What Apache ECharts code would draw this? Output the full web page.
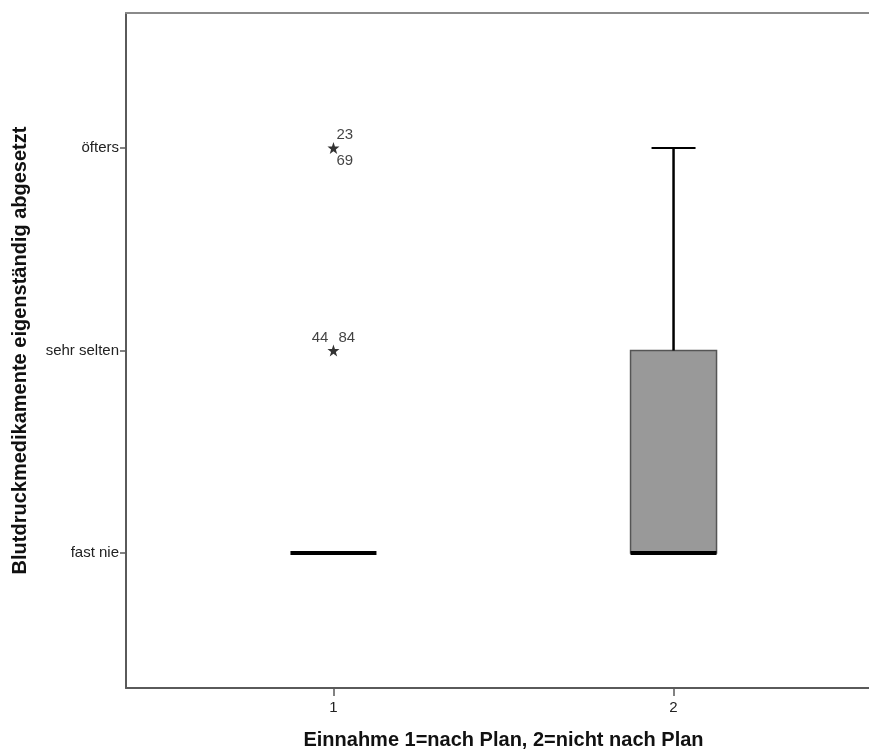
<!DOCTYPE html>
<html>
<head>
<meta charset="utf-8">
<script src="https://cdn.jsdelivr.net/npm/echarts@6/dist/echarts.min.js"></script>
<style>
html,body{margin:0;padding:0;background:#fff;}
#chart{width:869px;height:751px;}
</style>
</head>
<body>
<div id="chart"></div>
<script>
// ---- data ----
const groups = [1, 2];
const groupLabels = ['1', '2'];
const yLevelValues = [1, 2, 3];
const yLevelLabels = ['fast nie', 'sehr selten', 'öfters'];
// box statistics per group: min, Q1, median, Q3, max
const boxMin    = [1, 1];
const boxQ1     = [1, 1];
const boxMedian = [1, 1];
const boxQ3     = [1, 2];
const boxMax    = [1, 3];
// extreme values (stars) with case numbers
const outlierGroup = [1, 1];
const outlierValue = [3, 2];
const outlierCases = [['23', '69'], ['44', '84']];
const xTitle = 'Einnahme 1=nach Plan, 2=nicht nach Plan';
const yTitle = 'Blutdruckmedikamente eigenständig abgesetzt';

// ---- styles ----
const FONT = '"Liberation Sans", Arial, sans-serif';
const BOX_W = 86;
const CAP_W = 44;
const STAR = 'path://M0,-10L2.35,-3.24L9.51,-3.09L3.8,1.24L5.88,8.09L0,4L-5.88,8.09L-3.8,1.24L-9.51,-3.09L-2.35,-3.24Z';
// label placements: [align, dx, dy] relative to the star centre
const labelPlacements = [
  [['left', 3, -13], ['left', 3, 13]],
  [['right', -5, -13], ['left', 5, -13]]
];

const boxData = groups.map((g, i) => [g, boxMin[i], boxQ1[i], boxMedian[i], boxQ3[i], boxMax[i]]);

const starData = [];
const labelData = [];
outlierGroup.forEach((g, i) => {
  starData.push([g, outlierValue[i]]);
  outlierCases[i].forEach((c, j) => {
    const p = labelPlacements[i][j];
    labelData.push({
      value: [g, outlierValue[i]],
      name: c,
      label: {align: p[0], offset: [p[1], p[2]]}
    });
  });
});

const chart = echarts.init(document.getElementById('chart'), null, {renderer: 'canvas'});

const xMin = 0.39, xMax = 2.61;
const yMin = 1/3, yMax = 11/3;

chart.setOption({
  animation: false,
  backgroundColor: '#ffffff',
  grid: {left: 126, right: -12, top: 13, bottom: 63, containLabel: false, outerBoundsMode: 'none'},
  xAxis: [{
    type: 'value', min: xMin, max: xMax, position: 'bottom',
    name: xTitle, nameLocation: 'middle', nameGap: 42,
    nameTextStyle: {fontFamily: FONT, fontSize: 20, fontWeight: 'bold', color: '#111'},
    axisLine: {show: true, onZero: false, lineStyle: {color: '#5a5a5a', width: 2}},
    axisTick: {show: true, length: 8, customValues: groups, lineStyle: {color: '#5a5a5a', width: 1.5}},
    axisLabel: {show: true, customValues: groups, margin: 12, fontFamily: FONT, fontSize: 15, color: '#222',
      formatter: v => groupLabels[groups.indexOf(v)] ?? ''},
    splitLine: {show: false}
  }, {
    type: 'value', min: xMin, max: xMax, position: 'top',
    axisLine: {show: true, onZero: false, lineStyle: {color: '#8a8a8a', width: 2}},
    axisTick: {show: false}, axisLabel: {show: false}, splitLine: {show: false}
  }],
  yAxis: {
    type: 'value', min: yMin, max: yMax,
    name: yTitle, nameLocation: 'middle', nameGap: 96, nameRotate: 90,
    nameTextStyle: {fontFamily: FONT, fontSize: 20, fontWeight: 'bold', color: '#111'},
    axisLine: {show: true, onZero: false, lineStyle: {color: '#5a5a5a', width: 2}},
    axisTick: {show: true, length: 6, customValues: yLevelValues, lineStyle: {color: '#5a5a5a', width: 1.5}},
    axisLabel: {show: true, customValues: yLevelValues, margin: 7, fontFamily: FONT, fontSize: 15, color: '#222',
      formatter: v => yLevelLabels[yLevelValues.indexOf(v)] ?? ''},
    splitLine: {show: false}
  },
  series: [{
    type: 'custom',
    xAxisIndex: 0,
    data: boxData,
    encode: {x: 0, y: [1, 2, 3, 4, 5]},
    renderItem: function (params, api) {
      const x = api.value(0);
      const pMin = api.coord([x, api.value(1)]);
      const pQ1 = api.coord([x, api.value(2)]);
      const pMed = api.coord([x, api.value(3)]);
      const pQ3 = api.coord([x, api.value(4)]);
      const pMax = api.coord([x, api.value(5)]);
      const cx = pMed[0];
      const children = [];
      if (Math.abs(pQ1[1] - pQ3[1]) > 0.5) {
        children.push({type: 'rect',
          shape: {x: cx - BOX_W / 2, y: pQ3[1], width: BOX_W, height: pQ1[1] - pQ3[1]},
          style: {fill: '#999999', stroke: '#555555', lineWidth: 1.5}});
      }
      if (Math.abs(pMax[1] - pQ3[1]) > 0.5) {
        children.push({type: 'line', shape: {x1: cx, y1: pQ3[1], x2: cx, y2: pMax[1]},
          style: {stroke: '#000', lineWidth: 2.5}});
        children.push({type: 'line', shape: {x1: cx - CAP_W / 2, y1: pMax[1], x2: cx + CAP_W / 2, y2: pMax[1]},
          style: {stroke: '#000', lineWidth: 2}});
      }
      if (Math.abs(pMin[1] - pQ1[1]) > 0.5) {
        children.push({type: 'line', shape: {x1: cx, y1: pQ1[1], x2: cx, y2: pMin[1]},
          style: {stroke: '#000', lineWidth: 2.5}});
        children.push({type: 'line', shape: {x1: cx - CAP_W / 2, y1: pMin[1], x2: cx + CAP_W / 2, y2: pMin[1]},
          style: {stroke: '#000', lineWidth: 2}});
      }
      children.push({type: 'line', shape: {x1: cx - BOX_W / 2, y1: pMed[1], x2: cx + BOX_W / 2, y2: pMed[1]},
        style: {stroke: '#000', lineWidth: 4}});
      return {type: 'group', children: children};
    },
    z: 2
  }, {
    type: 'scatter',
    xAxisIndex: 0,
    data: starData,
    symbol: STAR,
    symbolSize: 12,
    itemStyle: {color: '#000'},
    z: 3
  }, {
    type: 'scatter',
    xAxisIndex: 0,
    data: labelData,
    symbolSize: 0,
    itemStyle: {color: 'transparent'},
    label: {show: true, position: 'inside', verticalAlign: 'middle', formatter: p => p.name,
      fontFamily: FONT, fontSize: 15, color: '#111'},
    z: 4
  }]
});
</script>
</body>
</html>
